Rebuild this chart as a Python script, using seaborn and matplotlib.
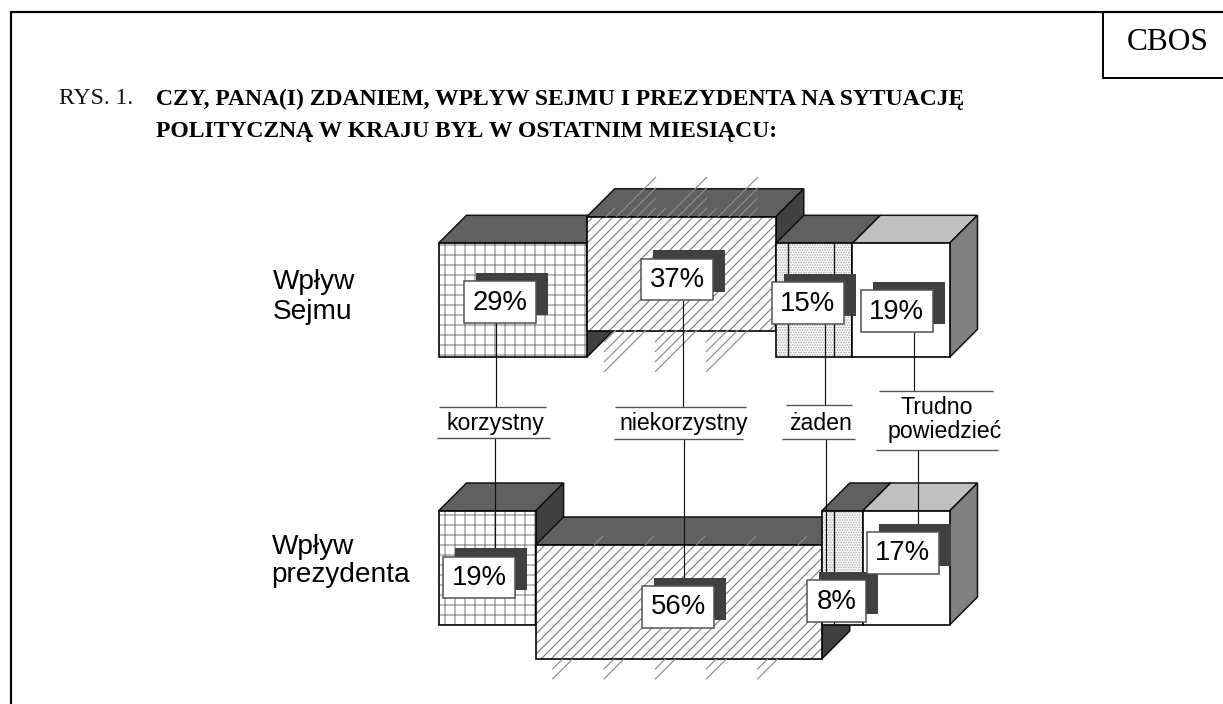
import matplotlib
matplotlib.use("Agg")
import matplotlib.pyplot as plt
from matplotlib.patches import Rectangle
from matplotlib.transforms import Affine2D
import seaborn as sns

rows = ["Wpływ\nSejmu", "Wpływ\nprezydenta"]
categories = ["korzystny", "niekorzystny", "żaden", "Trudno\npowiedzieć"]
sejm = [29, 37, 15, 19]
prezydent = [19, 56, 8, 17]
values = [sejm, prezydent]

W, H, DPI = 1223, 704, 120
sns.set_theme(style="white", rc={"hatch.linewidth": 0.7})
SANS, SERIF = "Liberation Sans", "Liberation Serif"

X0, PX = 438.5, 5.11        # px of 0 %, px per %
Y0, SP = 300.3, 267.7       # px of first row centre, px per row
BAR = 114 / SP
DX, DY = 28 / PX, 28 / SP
ROW_SHIFT = [[0, -26.5 / SP, 0, 0], [0, 34 / SP, 0, 0]]

faces = ["++", "////", "........", ""]
hatch_col = ["#8c8c8c", "#808080", "#a8a8a8", "white"]
top_col = ["#606060", "#606060", "#606060", "#c0c0c0"]
side_col = ["#404040", "#404040", "#404040", "#808080"]

fig, ax = plt.subplots(figsize=(W / DPI, H / DPI), dpi=DPI)
ax.set_position([0, 0, 1, 1])
pix = Affine2D().scale(1, -1).translate(0, H)
LIMS = (-X0 / PX, (W - X0) / PX), ((H - Y0) / SP, -Y0 / SP)


def hline(xs, ys, color="black", lw=0.7, z=4):
    ax.plot(xs, ys, color=color, lw=lw, transform=pix, zorder=z, clip_on=False,
            solid_capstyle="butt")


for r, vals in enumerate(values):
    left = 0
    for s, v in enumerate(vals):
        yc = r + ROW_SHIFT[r][s]
        y1, y2 = yc - BAR / 2, yc + BAR / 2
        x1, x2 = left, left + v
        ax.fill([x1, x1 + DX, x2 + DX, x2], [y1, y1 - DY, y1 - DY, y1],
                facecolor=top_col[s], edgecolor="#101010", lw=0.9)
        ax.fill([x2, x2 + DX, x2 + DX, x2], [y1, y1 - DY, y2 - DY, y2],
                facecolor=side_col[s], edgecolor="#101010", lw=0.9)
        sns.barplot(x=[v], y=[yc], orient="y", native_scale=True, width=BAR, left=x1,
                    color="white", saturation=1, edgecolor=hatch_col[s], linewidth=0,
                    hatch=faces[s], errorbar=None, ax=ax)
        sns.barplot(x=[v], y=[yc], orient="y", native_scale=True, width=BAR, left=x1,
                    fill=False, color="#050505", linewidth=1.0, errorbar=None, ax=ax)
        if s == 2:
            for xv in ((788.3, 834.3) if r == 0 else (834.3,)):
                hline([xv, xv], [Y0 + r * SP - 57, Y0 + r * SP + 57], "#101010", 0.8, 1)
        left += v

    # stray pattern lines round the "niekorzystny" block
    if r == 0:
        for xr in (656, 707, 758):
            for ye in (177, 187.7, 197.7, 207.7):
                hline([xr, xr - (216.7 - ye)], [ye, 216.7], "#8c8c8c", 0.7, 1.5)
        for xr in (615, 666, 717):
            hline([xr, xr - 9], [207.7, 216.7], "#8c8c8c", 0.7, 1.5)
        for xl in (604, 655, 706):
            for ye in (342, 352, 362, 372):
                hline([xl, xl + ye - 330], [ye, 330], "#8c8c8c", 0.7, 1.5)
    else:
        for xr in (603, 654, 705, 756, 807):
            hline([xr, xr - 9], [536, 545], "#8c8c8c", 0.7, 1.5)
        for xl in (552.3, 603.7, 655, 706, 757.3):
            for ye in (669.3, 679.3):
                hline([xl, xl + ye - 659], [ye, 659], "#8c8c8c", 0.7, 1.5)

ax.set_xlim(*LIMS[0])
ax.set_ylim(*LIMS[1])
ax.axis("off")

# percentage tags: white box left/top, taken with the series above
boxes = [[(464.3, 281), (641.3, 258.7), (771.7, 282.3), (860.7, 290.3)],
         [(443.3, 556.7), (642, 586), (807.3, 580.3), (866.7, 532)]]
for r, vals in enumerate(values):
    for s, v in enumerate(vals):
        bx, by = boxes[r][s]
        bw = 58.5 if v < 10 else 72
        ax.add_patch(Rectangle((bx + 12, by - 8.3), bw, 42, fc="#404040", ec="none",
                               transform=pix, zorder=5, clip_on=False))
        ax.add_patch(Rectangle((bx, by), bw, 41.6, fc="white", ec="#505050", lw=0.9,
                               transform=pix, zorder=6, clip_on=False))
        ax.text(bx + bw / 2, by + 21.5, f"{v}%", transform=pix, ha="center", va="center",
                family=SANS, fontsize=16.5, color="black", zorder=7)

# leaders and category labels
leaders = [(496.3, 322, 406.7), (494.7, 437.7, 549), (683.3, 300, 406.7), (684.3, 439, 579),
           (825, 323, 404.7), (826.3, 439, 573), (913.7, 332, 390.7), (918, 449.7, 525)]
for xv, a, b in leaders:
    hline([xv, xv], [a, b], "#101010", 0.7, 4)
rules = [(439.3, 546, 406.7), (436.7, 550, 437.7), (615.3, 746, 406.7), (614.3, 742.7, 439),
         (786, 852, 404.7), (782.3, 855, 439), (879.3, 992.7, 390.7), (875.7, 997.7, 449.7)]
for a, b, yv in rules:
    hline([a, b], [yv, yv], "#505050", 0.8, 4)
lab_size = 13.9
for name, xc, yc in zip(categories[:3], (495.7, 683.7, 821), (423.5, 423.5, 423.5)):
    ax.text(xc, yc, name, transform=pix, ha="center", va="center", family=SANS,
            fontsize=lab_size, color="black", zorder=7)
tr, po = categories[3].split("\n")
ax.text(936.7, 408, tr, transform=pix, ha="center", va="center", family=SANS, fontsize=lab_size,
        color="black", zorder=7)
ax.text(945, 431.7, po, transform=pix, ha="center", va="center", family=SANS, fontsize=lab_size,
        color="black", zorder=7)

# row labels
for name, xl, ys in zip(rows, (273, 271.7), ((282, 312), (547, 575))):
    for line, yv in zip(name.split("\n"), ys):
        ax.text(xl, yv, line, transform=pix, ha="left", va="center", family=SANS,
                fontsize=16.8, color="black")

# frame
hline([10, W], [12, 12], "black", 1.3, 8)
hline([11, 11], [11, H], "black", 1.3, 8)
hline([1102.7, 1102.7], [12, 77.7], "black", 1.2, 8)
hline([1102, W], [77.7, 77.7], "black", 1.2, 8)
ax.text(1168, 42, "CBOS", transform=pix, ha="center", va="center", family=SERIF, fontsize=18.8,
        color="black")

# headings
ax.text(59, 104.5, "RYS. 1.", transform=pix, ha="left", va="baseline", family=SERIF, fontsize=14.2,
        color="#111111")
ax.text(155.5, 104.5, "CZY, PANA(I) ZDANIEM, WPŁYW SEJMU I PREZYDENTA NA SYTUACJĘ", transform=pix,
        ha="left", va="baseline", family=SERIF, weight="bold", fontsize=14.2, color="black")
ax.text(155.5, 136.7, "POLITYCZNĄ W KRAJU BYŁ W OSTATNIM MIESIĄCU:", transform=pix,
        ha="left", va="baseline", family=SERIF, weight="bold", fontsize=14.2, color="black")

fig.savefig("out.png", dpi=DPI)
